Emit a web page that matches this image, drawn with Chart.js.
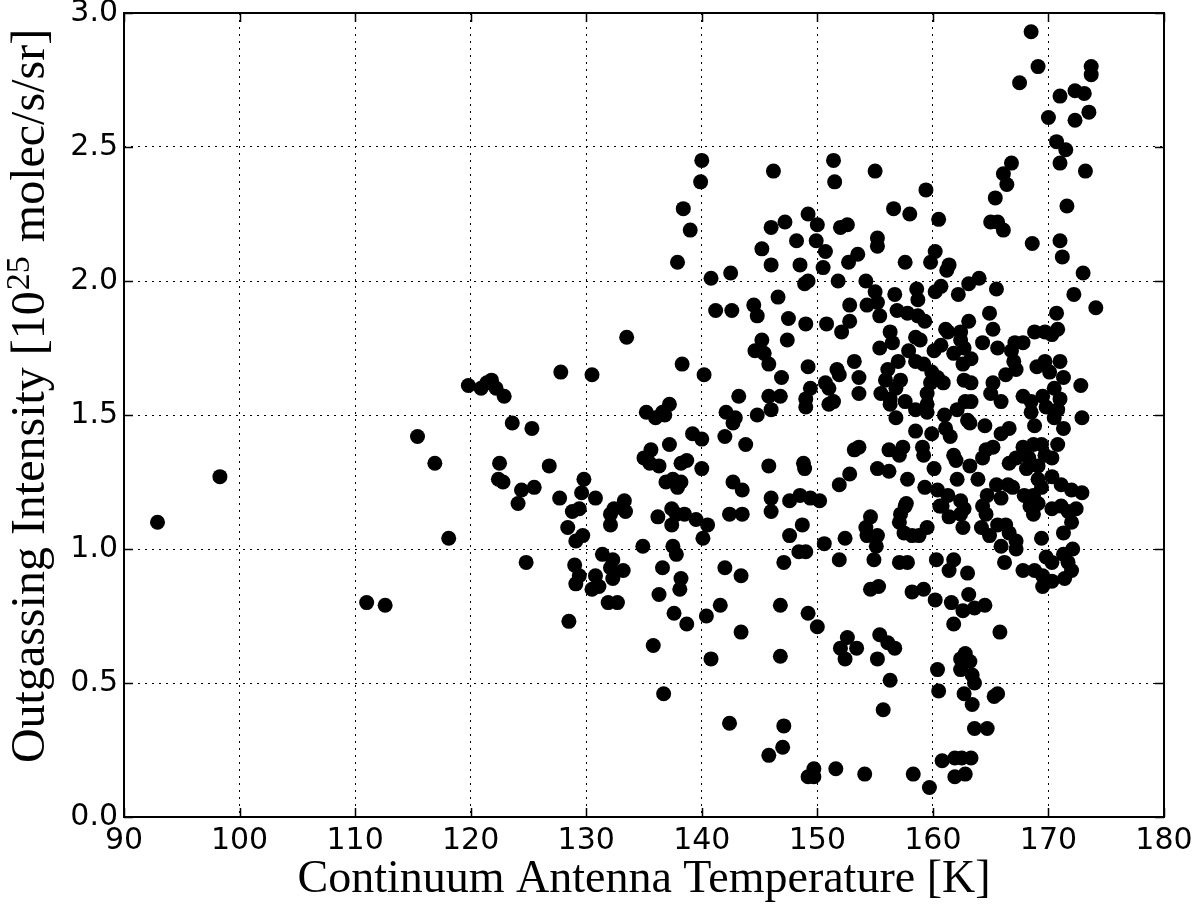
<!DOCTYPE html>
<html>
<head>
<meta charset="utf-8">
<title>Outgassing intensity vs continuum antenna temperature</title>
<script src="https://cdn.jsdelivr.net/npm/chart.js@4.4.1/dist/chart.umd.min.js"></script>
<style>
    html, body { margin: 0; padding: 0; background: #fff; }
    #wrap { width: 1200px; height: 909px; position: relative; }
</style>
</head>
<body>
<div id="wrap"><canvas id="outgassing-chart"></canvas></div>
<script>
(function() {
    'use strict';

    // [temperature K, intensity 1e25 molec/s/sr]
    const coolPoints = [
        [92.9, 1.10], [98.3, 1.27], [111.0, 0.80], [112.6, 0.79], [115.4, 1.42], [116.9, 1.32], [118.1, 1.04],
        [119.8, 1.61], [120.9, 1.60], [121.4, 1.62], [121.8, 1.63], [122.2, 1.60], [122.9, 1.57],
        [127.8, 1.66], [130.5, 1.65], [123.6, 1.47], [125.3, 1.45], [122.5, 1.32], [122.4, 1.26], [122.8, 1.25],
        [126.8, 1.31], [124.4, 1.22], [125.5, 1.23], [124.1, 1.17], [127.7, 1.19], [129.8, 1.26], [129.6, 1.21],
        [130.8, 1.19], [128.8, 1.14], [129.4, 1.15], [128.4, 1.08], [129.7, 1.05], [129.1, 1.03], [132.1, 1.13],
        [132.1, 1.09], [132.4, 1.15], [131.4, 0.98], [124.8, 0.95], [129.0, 0.94], [129.4, 0.90], [129.1, 0.87],
        [130.8, 0.90], [130.5, 0.85], [131.1, 0.86], [132.3, 0.89], [131.9, 0.80], [132.7, 0.80], [128.5, 0.73],
        [133.3, 1.18], [133.4, 1.14], [134.9, 1.01], [132.3, 0.96], [132.1, 0.93], [133.2, 0.92], [133.5, 1.79],
    ];

    const midPoints = [
        [136.0, 1.49], [136.8, 1.50], [142.7, 1.47], [139.2, 1.43], [140.0, 1.41], [142.0, 1.42], [143.8, 1.39],
        [137.2, 1.39], [135.6, 1.37], [135.0, 1.34], [135.5, 1.32], [136.3, 1.31], [138.2, 1.32], [138.7, 1.33],
        [140.0, 1.30], [145.8, 1.31], [136.9, 1.25], [137.5, 1.26], [138.2, 1.25], [137.9, 1.23], [142.7, 1.25],
        [143.5, 1.22], [146.0, 1.19], [146.0, 1.14], [147.6, 1.18], [136.2, 1.12], [137.4, 1.15], [137.8, 1.13],
        [138.5, 1.13], [137.4, 1.09], [139.5, 1.11], [140.5, 1.09], [140.1, 1.04], [142.4, 1.13], [143.5, 1.13],
        [147.6, 1.05], [137.5, 1.01], [137.8, 0.98], [136.6, 0.93], [142.0, 0.93], [143.4, 0.90], [147.1, 0.95],
        [138.2, 0.89], [138.1, 0.85], [136.3, 0.83], [137.6, 0.76], [138.7, 0.72], [140.4, 0.75], [141.6, 0.79],
        [143.4, 0.69], [146.8, 0.79], [135.8, 0.64], [140.8, 0.59], [146.8, 0.60], [136.7, 0.46], [142.4, 0.35],
        [147.1, 0.34], [147.0, 0.26], [145.8, 0.23],
        [140.0, 2.45], [139.9, 2.37], [138.4, 2.27], [139.0, 2.19], [137.9, 2.07], [146.2, 2.41], [146.0, 2.20],
        [147.2, 2.22], [145.2, 2.12], [146.0, 2.06], [140.8, 2.01], [142.5, 2.03], [141.2, 1.89], [142.6, 1.89],
        [144.5, 1.91], [144.8, 1.87], [146.6, 1.94], [147.5, 1.86], [145.2, 1.78], [144.6, 1.74], [145.4, 1.73],
        [145.8, 1.69], [147.4, 1.78], [138.3, 1.69], [140.2, 1.65], [146.9, 1.64], [143.2, 1.57], [145.8, 1.57],
        [146.8, 1.57], [146.0, 1.52], [137.2, 1.54], [136.6, 1.51], [135.2, 1.51], [142.1, 1.51], [142.9, 1.49],
        [144.8, 1.50],
        [149.2, 2.25], [148.2, 2.15], [149.9, 2.15], [148.5, 2.06], [149.2, 2.00], [148.9, 1.99], [149.0, 1.84],
        [149.2, 1.68], [149.4, 1.60], [149.0, 1.56], [149.0, 1.53], [148.8, 1.32], [148.9, 1.30], [148.5, 1.20],
        [149.4, 1.19], [148.7, 1.09], [148.4, 0.99], [149.0, 0.99], [149.2, 0.76], [150.0, 0.71], [149.7, 0.18],
        [149.2, 0.15], [149.7, 0.15], [150.0, 2.21],
    ];

    const warmPoints = [
        [151.4, 2.45], [151.5, 2.37], [155.0, 2.41], [159.4, 2.34], [156.6, 2.27], [158.0, 2.25], [160.5, 2.23],
        [152.0, 2.20], [152.6, 2.21], [150.7, 2.11], [153.5, 2.10], [155.2, 2.16], [155.2, 2.13], [150.5, 2.05],
        [152.7, 2.07], [157.6, 2.07], [160.2, 2.11], [159.8, 2.07], [161.4, 2.06], [161.2, 2.04], [151.8, 2.00],
        [154.2, 2.00], [155.0, 1.96], [156.7, 1.95], [158.6, 1.97], [158.7, 1.93], [160.7, 1.98], [160.2, 1.96],
        [162.2, 1.95], [163.1, 1.99], [152.8, 1.91], [154.3, 1.91], [155.2, 1.92], [155.4, 1.87], [156.9, 1.89],
        [157.8, 1.88], [158.7, 1.87], [159.3, 1.85], [150.8, 1.84], [152.8, 1.85], [152.1, 1.81], [156.3, 1.81],
        [158.5, 1.79], [161.1, 1.82], [162.4, 1.81], [163.1, 1.85],
        [155.4, 1.75], [156.5, 1.77], [157.0, 1.70], [157.9, 1.74], [158.5, 1.70], [158.9, 1.78], [160.1, 1.74],
        [160.7, 1.76], [159.2, 1.69], [159.9, 1.66], [161.8, 1.73], [162.4, 1.78], [162.6, 1.69], [161.3, 1.81],
        [151.7, 1.67], [151.9, 1.65], [153.2, 1.70], [153.6, 1.64], [156.1, 1.67], [155.9, 1.63], [157.2, 1.63],
        [150.7, 1.62], [151.0, 1.60], [153.6, 1.58], [155.5, 1.58], [156.8, 1.60], [156.3, 1.56], [151.0, 1.54],
        [151.4, 1.55], [156.3, 1.54], [157.6, 1.55], [158.5, 1.52], [159.5, 1.58], [159.8, 1.62], [160.4, 1.64],
        [160.9, 1.62], [159.5, 1.54], [159.5, 1.51], [162.1, 1.52], [162.8, 1.55], [163.0, 1.48], [156.8, 1.49],
        [161.0, 1.50], [158.5, 1.44], [159.9, 1.43], [161.5, 1.42], [161.1, 1.45], [153.6, 1.38], [153.2, 1.37],
        [156.2, 1.37], [157.1, 1.35], [157.4, 1.38], [159.1, 1.38], [159.2, 1.35], [161.8, 1.35], [162.0, 1.33],
        [160.1, 1.30], [155.2, 1.30], [156.2, 1.29], [152.8, 1.28], [151.9, 1.24], [157.8, 1.26], [159.3, 1.23],
        [162.1, 1.26], [160.4, 1.22], [161.3, 1.20], [162.4, 1.18], [150.2, 1.18], [157.7, 1.17], [160.8, 1.16],
        [150.6, 1.02], [152.4, 1.04], [151.9, 0.96], [154.6, 1.12], [154.2, 1.08], [154.3, 1.05], [155.2, 1.05],
        [155.1, 1.01], [154.9, 0.96], [157.6, 1.16], [157.2, 1.13], [157.1, 1.10], [157.5, 1.06], [158.2, 1.05],
        [158.8, 1.05], [159.5, 1.08], [160.6, 1.16], [161.4, 1.12], [162.4, 1.13], [162.6, 1.08], [157.1, 0.95],
        [157.8, 0.95], [160.3, 0.96], [161.8, 0.96], [161.4, 0.92], [163.0, 0.91], [154.6, 0.85], [155.3, 0.86],
        [158.2, 0.84], [159.2, 0.85], [160.2, 0.81], [161.6, 0.80], [162.6, 0.77], [163.1, 0.83], [161.8, 0.72],
        [152.6, 0.67], [152.0, 0.63], [153.4, 0.63], [152.4, 0.59], [155.4, 0.68], [156.1, 0.65], [156.7, 0.63],
        [155.2, 0.59], [156.3, 0.51], [160.4, 0.55], [160.5, 0.47], [155.7, 0.40], [151.6, 0.18], [154.1, 0.16],
        [158.3, 0.16], [159.7, 0.11], [160.8, 0.21], [161.9, 0.22], [162.5, 0.22], [161.9, 0.15], [162.8, 0.16],
        [162.8, 0.61], [162.4, 0.59], [162.4, 0.55], [162.7, 0.46],
    ];

    const hotPoints = [
        [163.3, 0.22], [163.2, 0.58], [163.4, 0.53], [163.6, 0.50], [163.4, 0.42], [165.3, 0.45], [165.6, 0.46],
        [163.6, 0.33], [164.7, 0.33],
        [168.5, 2.93], [169.1, 2.80], [167.5, 2.74], [173.7, 2.80], [173.7, 2.77], [171.0, 2.69], [172.3, 2.71],
        [173.1, 2.70], [170.0, 2.61], [172.3, 2.60], [173.5, 2.63], [170.7, 2.52], [171.5, 2.49], [171.0, 2.44],
        [173.2, 2.41], [166.8, 2.44], [166.1, 2.40], [166.4, 2.36], [165.4, 2.31], [171.6, 2.28], [165.0, 2.22],
        [165.6, 2.22], [166.1, 2.19], [168.6, 2.14], [171.0, 2.15], [171.2, 2.09], [173.0, 2.03], [172.2, 1.95],
        [174.1, 1.90], [170.7, 1.88], [164.0, 2.01], [165.5, 1.97], [164.9, 1.88],
        [165.2, 1.82], [168.8, 1.81], [169.7, 1.81], [170.8, 1.82], [170.3, 1.80], [164.3, 1.77], [165.6, 1.75],
        [167.1, 1.77], [167.8, 1.77], [166.8, 1.74], [162.7, 1.75], [163.3, 1.71], [167.0, 1.70], [167.2, 1.67],
        [166.3, 1.65], [169.0, 1.68], [169.7, 1.70], [171.0, 1.70], [170.1, 1.66], [171.3, 1.64], [172.8, 1.61],
        [162.7, 1.63], [163.3, 1.62], [165.2, 1.62], [165.0, 1.58], [165.9, 1.55], [167.8, 1.57], [168.5, 1.55],
        [169.5, 1.57], [170.5, 1.60], [171.0, 1.56], [169.8, 1.53], [168.5, 1.51], [170.8, 1.52], [170.5, 1.49],
        [172.9, 1.49], [163.3, 1.55], [163.2, 1.47], [164.5, 1.46], [168.8, 1.46], [171.3, 1.45], [166.6, 1.45],
        [165.9, 1.43], [170.8, 1.39], [164.6, 1.37], [165.2, 1.38], [164.3, 1.34], [167.8, 1.38], [168.7, 1.39],
        [169.4, 1.39], [167.2, 1.34], [168.3, 1.34], [169.7, 1.35], [170.3, 1.34], [166.6, 1.32], [168.1, 1.30],
        [169.1, 1.31], [163.2, 1.31], [163.9, 1.26], [169.1, 1.26], [170.3, 1.27], [171.1, 1.24], [165.5, 1.24],
        [166.5, 1.24], [172.9, 1.21], [169.4, 1.23],
        [166.9, 1.23], [164.7, 1.20], [165.9, 1.19], [162.7, 1.15], [164.3, 1.16], [164.6, 1.13], [167.9, 1.20],
        [168.7, 1.20], [172.0, 1.22], [168.4, 1.16], [168.7, 1.13], [169.1, 1.17], [170.3, 1.15], [171.1, 1.16],
        [171.7, 1.14], [172.4, 1.15], [172.0, 1.10], [171.3, 1.06], [164.2, 1.08], [164.9, 1.05], [165.6, 1.09],
        [166.3, 1.09], [166.6, 1.06], [167.2, 1.03], [165.9, 1.01], [167.2, 1.00], [169.4, 1.04], [169.8, 0.97],
        [170.3, 0.95], [171.3, 0.98], [172.1, 1.00], [171.7, 0.95], [172.0, 0.92], [171.4, 0.89], [166.2, 0.95],
        [167.8, 0.92], [168.8, 0.92], [169.5, 0.90], [170.3, 0.88], [169.5, 0.86], [163.6, 0.78], [164.5, 0.79],
        [165.8, 0.69],
    ];

    const xTickValues = [90, 100, 110, 120, 130, 140, 150, 160, 170, 180];
    const yTickValues = [0, 0.5, 1.0, 1.5, 2.0, 2.5, 3.0];

    const X_LABEL = 'Continuum Antenna Temperature [K]';
    // y label is drawn by hand so the exponent can sit as a real superscript
    const Y_LABEL_PARTS = ['Outgassing Intensity [10', '25', 'molec/s/sr]'];

    const TICK_LEN = 9;
    const GRID_DASH = [2, 5];

    function drawYTitle(chart) {
        const ctx = chart.ctx;
        const [head, sup, tail] = Y_LABEL_PARTS;
        const mainFont = '48px "Liberation Serif"';
        const supFont = '34px "Liberation Serif"';
        const gap = 14;

        ctx.save();
        ctx.fillStyle = '#000';
        ctx.textAlign = 'left';
        ctx.textBaseline = 'alphabetic';
        ctx.font = mainFont;
        const wHead = ctx.measureText(head).width;
        const wTail = ctx.measureText(tail).width;
        ctx.font = supFont;
        const wSup = ctx.measureText(sup).width;
        const total = wHead + 1 + wSup + gap + wTail;

        ctx.translate(44, 396 + total / 2);
        ctx.rotate(-Math.PI / 2);
        ctx.font = mainFont;
        ctx.fillText(head, 0, 0);
        ctx.font = supFont;
        ctx.fillText(sup, wHead + 1, -15);
        ctx.font = mainFont;
        ctx.fillText(tail, wHead + 1 + wSup + gap, 0);
        ctx.restore();
    }

    // matplotlib style box round the axes with inward ticks
    const axesFrame = {
        id: 'axesFrame',
        afterDraw(chart) {
            const { ctx, chartArea: a, scales: { x, y } } = chart;
            ctx.save();
            ctx.strokeStyle = '#000';
            ctx.lineWidth = 1.5;
            ctx.beginPath();
            xTickValues.forEach(v => {
                const px = Math.round(x.getPixelForValue(v)) + 0.5;
                ctx.moveTo(px, a.bottom);
                ctx.lineTo(px, a.bottom - TICK_LEN);
                ctx.moveTo(px, a.top);
                ctx.lineTo(px, a.top + TICK_LEN);
            });
            yTickValues.forEach(v => {
                const py = Math.round(y.getPixelForValue(v)) + 0.5;
                ctx.moveTo(a.left, py);
                ctx.lineTo(a.left + TICK_LEN, py);
                ctx.moveTo(a.right, py);
                ctx.lineTo(a.right - TICK_LEN, py);
            });
            ctx.stroke();
            ctx.lineWidth = 2;
            ctx.strokeRect(a.left, a.top, a.right - a.left, a.bottom - a.top);
            ctx.restore();
            drawYTitle(chart);
        },
    };

    function toXY(pairs) {
        return pairs.map(p => ({ x: p[0], y: p[1] }));
    }

    function initChart() {
        const canvas = document.getElementById('outgassing-chart');
        if (!canvas) {
            console.warn('Canvas #outgassing-chart not found');
            return;
        }

        const points = toXY([].concat(coolPoints, midPoints, warmPoints, hotPoints));
        const tickFont = { family: 'DejaVu Sans', size: 30, lineHeight: 0.8 };

        new Chart(canvas, {
            type: 'scatter',
            data: {
                datasets: [{
                    label: 'outgassing',
                    data: points,
                    backgroundColor: '#000',
                    borderColor: '#000',
                    borderWidth: 0,
                    pointRadius: 7.5,
                    pointHoverRadius: 7.5,
                }],
            },
            options: {
                responsive: true,
                maintainAspectRatio: false,
                animation: false,
                events: [],
                layout: { padding: { top: 13, right: 36, bottom: 0, left: 0 } },
                plugins: {
                    legend: { display: false },
                    tooltip: { enabled: false },
                },
                scales: {
                    x: {
                        type: 'linear',
                        min: 90,
                        max: 180,
                        afterBuildTicks: s => { s.ticks = xTickValues.map(v => ({ value: v })); },
                        afterFit: s => {
                            s.height = 92;
                            s.paddingLeft = 0;
                            s.paddingRight = 0;
                        },
                        grid: { color: '#000', lineWidth: 1, drawTicks: false },
                        border: { display: false, dash: GRID_DASH },
                        ticks: {
                            color: '#000',
                            font: tickFont,
                            padding: 12,
                            maxRotation: 0,
                            autoSkip: false,
                            callback: v => String(v),
                        },
                        title: {
                            display: true,
                            text: X_LABEL,
                            color: '#000',
                            font: { family: 'Liberation Serif', size: 46, lineHeight: 1.2 },
                            padding: { top: 0, bottom: 1 },
                        },
                    },
                    y: {
                        type: 'linear',
                        min: 0,
                        max: 3,
                        afterBuildTicks: s => { s.ticks = yTickValues.map(v => ({ value: v })); },
                        afterFit: s => {
                            s.width = 124;
                            s.paddingTop = 0;
                            s.paddingBottom = 0;
                        },
                        grid: { color: '#000', lineWidth: 1, drawTicks: false },
                        border: { display: false, dash: GRID_DASH },
                        ticks: {
                            color: '#000',
                            font: tickFont,
                            padding: 6,
                            autoSkip: false,
                            callback: v => v.toFixed(1),
                        },
                    },
                },
            },
            plugins: [axesFrame],
        });
    }

    if (document.readyState === 'loading') {
        document.addEventListener('DOMContentLoaded', initChart);
    } else {
        initChart();
    }
})();
</script>
</body>
</html>
